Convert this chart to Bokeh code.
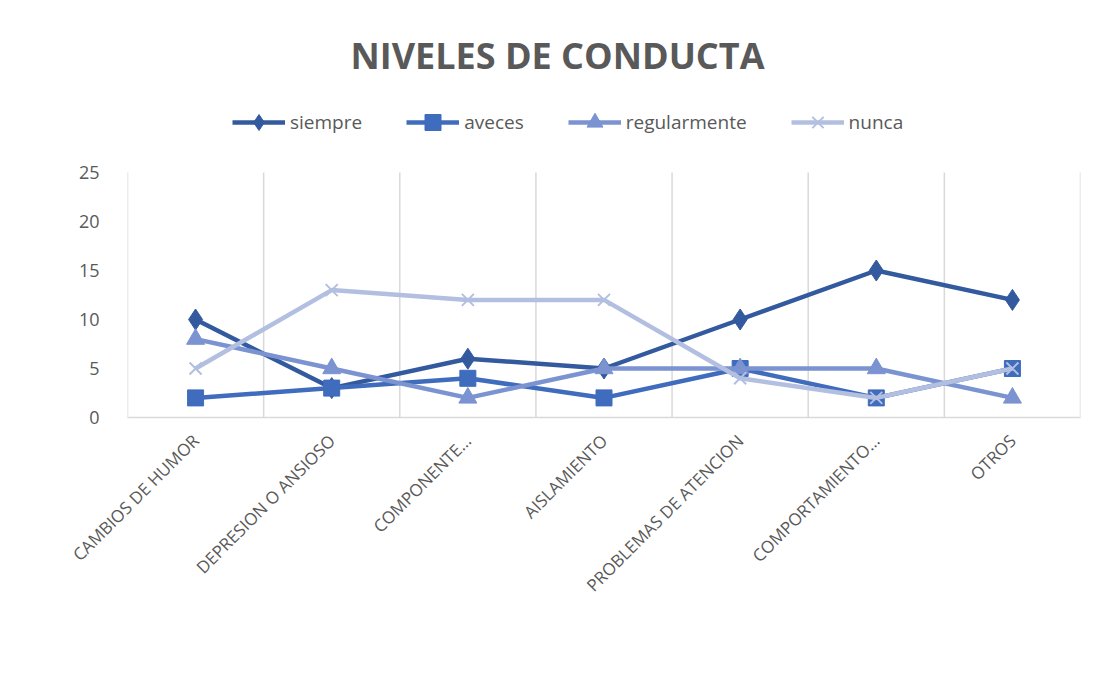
import math
from bokeh.plotting import figure
from bokeh.models import FactorRange, Range1d, Legend, LegendItem, Label, FixedTicker
from bokeh.embed import file_html
from bokeh.resources import INLINE

categories = ["CAMBIOS DE HUMOR", "DEPRESION O ANSIOSO", "COMPONENTE…", "AISLAMIENTO",
              "PROBLEMAS DE ATENCION", "COMPORTAMIENTO…", "OTROS"]
siempre = [10, 3, 6, 5, 10, 15, 12]
aveces = [2, 3, 4, 2, 5, 2, 5]
regularmente = [8, 5, 2, 5, 5, 5, 2]
nunca = [5, 13, 12, 12, 4, 2, 5]
y_ticks = [0, 5, 10, 15, 20, 25]

FONT = "Open Sans"
GRAY = "#595959"
GRID = "#D9D9D9"

# frame spans from the top of the figure to the x axis; the value axis stops at 25
FRAME_H = 417
PLOT_H = 245
y_max = 25
y_top = y_max * FRAME_H / PLOT_H

p = figure(width=1086, height=659, x_range=FactorRange(*categories), y_range=Range1d(0, y_top),
           output_backend="svg", toolbar_location=None,
           min_border_left=127, min_border_right=6, min_border_top=0, min_border_bottom=242)
p.outline_line_color = None
p.background_fill_color = "white"
p.border_fill_color = "white"
p.ygrid.visible = False
p.xgrid.visible = False

# vertical category-boundary grid lines
bounds = list(range(len(categories) + 1))
p.segment(x0=bounds, x1=bounds, y0=[0] * len(bounds), y1=[y_max] * len(bounds),
          line_color=GRID, line_width=1.5)

# axes
p.yaxis.ticker = FixedTicker(ticks=y_ticks)
p.yaxis.axis_line_color = None
p.yaxis.major_tick_line_color = None
p.yaxis.minor_tick_line_color = None
p.yaxis.major_label_text_font = FONT
p.yaxis.major_label_text_font_size = "18px"
p.yaxis.major_label_text_color = GRAY
p.yaxis.major_label_standoff = 22

p.xaxis.axis_line_color = GRID
p.xaxis.axis_line_width = 1.5
p.xaxis.major_tick_line_color = None
p.xaxis.minor_tick_line_color = None
p.xaxis.major_label_orientation = math.pi / 4
p.xaxis.major_label_text_font = FONT
p.xaxis.major_label_text_font_size = "17px"
p.xaxis.major_label_text_color = GRAY
p.xaxis.major_label_standoff = 14

c_siempre = "#335A9E"
c_aveces = "#3F6CBC"
c_regular = "#7B93D0"
c_nunca = "#B2BFE1"
LW = 4.5

l1 = p.line(categories, siempre, line_color=c_siempre, line_width=LW)
m1 = p.scatter(categories, siempre, marker="diamond", size=21, color=c_siempre)
l2 = p.line(categories, aveces, line_color=c_aveces, line_width=LW)
m2 = p.scatter(categories, aveces, marker="square", size=16, color=c_aveces)
l3 = p.line(categories, regularmente, line_color=c_regular, line_width=LW)
m3 = p.scatter(categories, regularmente, marker="triangle", size=18, color=c_regular)
l4 = p.line(categories, nunca, line_color=c_nunca, line_width=LW)
m4 = p.scatter(categories, nunca, marker="x", size=17, line_color=c_nunca, line_width=2)

legend = Legend(items=[
    LegendItem(label="siempre", renderers=[l1, m1]),
    LegendItem(label="aveces", renderers=[l2, m2]),
    LegendItem(label="regularmente", renderers=[l3, m3]),
    LegendItem(label="nunca", renderers=[l4, m4]),
], orientation="horizontal", location=(105, 275))
legend.glyph_width = 53
legend.glyph_height = 40
legend.label_standoff = 5
legend.spacing = 44
legend.padding = 0
legend.margin = 0
legend.border_line_color = None
legend.background_fill_alpha = 0
legend.label_text_font = FONT
legend.label_text_font_size = "19px"
legend.label_text_color = GRAY
p.add_layout(legend, "center")

title = Label(x=430, y=362, x_units="screen", y_units="screen", text="NIVELES DE CONDUCTA",
              text_font=FONT, text_font_size="36px", text_font_style="bold",
              text_color=GRAY, text_align="center", text_baseline="middle")
p.add_layout(title)

open("out.html", "w").write(file_html(p, INLINE))
